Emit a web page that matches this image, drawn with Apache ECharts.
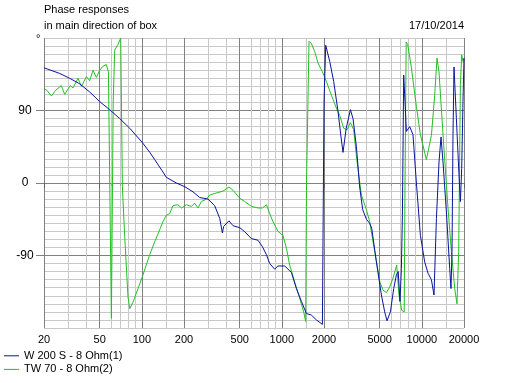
<!DOCTYPE html>
<html><head><meta charset="utf-8">
<script src="https://cdn.jsdelivr.net/npm/echarts@6/dist/echarts.min.js"></script>
<style>html,body{margin:0;padding:0;background:#fff}#c{width:510px;height:383px}</style>
</head><body><div id="c"></div>
<script>
// Tick positions (Hz) and phase labels (degrees)
const majorFreqTicks = [20, 50, 100, 200, 500, 1000, 2000, 5000, 10000, 20000];
const minorFreqTicks = [30, 40, 60, 70, 80, 90, 150, 300, 400, 600, 700, 800, 900, 1500, 3000, 4000, 6000, 7000, 8000, 9000, 15000];
const phaseLabels = [-90, 0, 90];

// W 200 S - 8 Ohm(1)
const w200Freq = [20, 25.9, 30.5, 36, 42.4, 50, 58.9, 69.5, 81.9, 101, 114, 123.5, 138.6, 149.7, 176.5, 202, 232, 259, 297, 331, 360, 376, 384, 419, 448, 500, 543, 606, 675, 726, 776, 819, 889, 938, 1048, 1170, 1270, 1379, 1497, 1626, 1765, 1948, 2000, 2057, 2197, 2346, 2518, 2633, 2734, 2882, 3088, 3223, 3408, 3597, 3779, 4016, 4240, 4382, 4736, 5140, 5427, 5636, 5963, 6295, 6580, 6776, 6981, 7142, 7261, 7418, 7579, 7755, 8186, 8644, 9141, 9763, 10478, 11064, 11700, 12212, 12705, 13259, 13703, 14159, 14974, 15809, 16148, 16418, 16689, 16968, 17646, 18419, 18848, 19255, 19672, 20000];
const w200Phase = [143, 136, 130, 123, 113, 101, 91, 80, 68, 50, 38, 29, 16, 7, 0, -4.5, -11, -18, -20, -28, -44, -62, -54, -47, -53, -55.5, -60.5, -69, -71, -79, -89, -100, -107, -103, -103, -111, -131, -147, -162, -164, -170, -175.5, 100, 171, 151, 126, 89, 60, 38, 68, 91, 80, 45, -5, -33, -45, -50, -56, -98, -139, -160, -171, -160, -131, -114, -110, -147, -106, -40, 134, 101, 64, 70, 60, 0, -65, -98, -112, -120, -139, -44, 26, 57, 26, -36, -106, -131, -85, 60, 144, 80, 10, -23, 18, 101, 155];

// TW 70 - 8 Ohm(2)
const tw70Freq = [20, 21, 22.6, 24.2, 26.6, 28.1, 30.8, 32.2, 35, 37, 40.2, 42.4, 44.8, 47.3, 50, 52.8, 55.8, 57.7, 60.6, 62.4, 64, 67.5, 70.6, 72.6, 75.4, 79.6, 81.9, 86.4, 93.9, 101.9, 113.8, 123.5, 134.1, 141.6, 149.7, 158, 167, 181, 192, 208, 226, 238, 252, 266, 289, 305, 331, 380, 419, 448, 500, 543, 606, 675, 726, 776, 819, 864, 938, 1019, 1078, 1138, 1235, 1341, 1432, 1480, 1500, 1563, 1626, 1717, 1812, 1948, 2081, 2259, 2453, 2589, 2765, 2920, 3088, 3260, 3441, 3700, 4016, 4240, 4604, 5017, 5278, 5582, 5893, 6222, 6612, 6866, 7178, 7480, 7579, 7728, 7922, 8420, 9141, 9763, 10774, 11700, 12351, 12830, 13259, 14159, 15376, 16255, 17163, 17824, 18326, 18848, 19255, 19672, 20000];
const tw70Phase = [117, 115, 108, 115, 121, 110, 121, 118, 130, 120, 132, 127, 140, 131, 140, 145, 147, 138, -168, 100, 165, 172, 180, -5, -66, -141, -156, -148, -131, -114, -89, -73, -58, -48, -40, -38, -28, -27, -31, -27, -29, -25, -31, -23, -20, -15, -13, -10, -5, -9, -19, -23, -29, -31, -31, -27, -38, -48, -60, -65, -81, -102, -123, -143, -160, -172, 0, 176, 173, 163, 149, 138, 126, 109, 93, 84, 68, 66, 75, 66, 27, -15, -33, -48, -85, -123, -133, -136, -129, -118, -102, -139, -158, -160, 0, 175, 172, 143, 95, 60, 29, 59, 109, 155, 138, 60, -31, -85, -131, -150, -85, 122, 159, 151, 155];

const seriesNames = ['W 200 S - 8 Ohm(1)', 'TW 70 - 8 Ohm(2)'];
const lg = Math.log10;
const toPts = (fs, ps) => fs.map((f, i) => [lg(f), ps[i]]);

const chart = echarts.init(document.getElementById('c'), null, {renderer: 'canvas'});
const FONT = 'Liberation Sans, Arial, sans-serif';
const xBase = {
  type: 'value', min: lg(20), max: lg(20000), position: 'bottom',
  axisLine: {show: false}
};
chart.setOption({
  animation: false,
  backgroundColor: '#fff',
  textStyle: {fontFamily: FONT},
  title: [
    {text: 'Phase responses', left: 44, top: 4, padding: 0, textStyle: {fontSize: 11, fontWeight: 'normal', color: '#000', fontFamily: FONT}},
    {text: 'in main direction of box', left: 44, top: 20, padding: 0, textStyle: {fontSize: 11, fontWeight: 'normal', color: '#000', fontFamily: FONT}},
    {text: '17/10/2014', right: 46, top: 20, padding: 0, textStyle: {fontSize: 11, fontWeight: 'normal', color: '#000', fontFamily: FONT}}
  ],
  graphic: [{type: 'text', left: 36, top: 33, style: {text: '°', fontSize: 11, fill: '#000', fontFamily: FONT}}],
  grid: {left: 44, top: 38, width: 420, height: 290, containLabel: false},
  xAxis: [
    Object.assign({}, xBase, {
      axisTick: {show: true, customValues: minorFreqTicks.map(lg), length: 3, lineStyle: {color: '#a0a0a0'}},
      axisLabel: {show: false},
      splitLine: {show: true, lineStyle: {color: '#c8c8c8', width: 1}}
    }),
    Object.assign({}, xBase, {
      axisTick: {show: true, customValues: majorFreqTicks.map(lg), length: 5, lineStyle: {color: '#606060'}},
      axisLabel: {show: true, customValues: majorFreqTicks.map(lg), formatter: v => String(Math.round(Math.pow(10, v))), fontSize: 11, color: '#000', margin: 6, fontFamily: FONT},
      splitLine: {show: true, lineStyle: {color: '#808080', width: 1}}
    })
  ],
  yAxis: [
    {type: 'value', min: -180, max: 180, interval: 10, position: 'left',
     axisLine: {show: false}, axisTick: {show: false}, axisLabel: {show: false},
     splitLine: {show: true, lineStyle: {color: '#c8c8c8', width: 1}}},
    {type: 'value', min: -180, max: 180, interval: 90, position: 'left',
     axisLine: {show: false},
     axisTick: {show: true, customValues: phaseLabels, length: 8, lineStyle: {color: '#808080'}},
     axisLabel: {show: true, customValues: phaseLabels, fontSize: 12, color: '#000', align: 'center', margin: 19, fontFamily: FONT},
     splitLine: {show: true, lineStyle: {color: '#808080', width: 1}}}
  ],
  legend: {
    orient: 'vertical', left: 4, top: 349, padding: 0, itemGap: 0,
    itemWidth: 15, itemHeight: 1, icon: 'rect',
    textStyle: {fontSize: 11, color: '#000', lineHeight: 13.6, fontFamily: FONT},
    data: seriesNames
  },
  series: [
    {name: seriesNames[0], type: 'line', xAxisIndex: 0, yAxisIndex: 0, data: toPts(w200Freq, w200Phase),
     symbol: 'none', showSymbol: false, z: 4, color: '#0a14a0', lineStyle: {width: 1, color: '#0a14a0'}},
    {name: seriesNames[1], type: 'line', xAxisIndex: 0, yAxisIndex: 0, data: toPts(tw70Freq, tw70Phase),
     symbol: 'none', showSymbol: false, z: 3, color: '#22c022', lineStyle: {width: 1, color: '#22c022'}}
  ]
});
</script></body></html>
